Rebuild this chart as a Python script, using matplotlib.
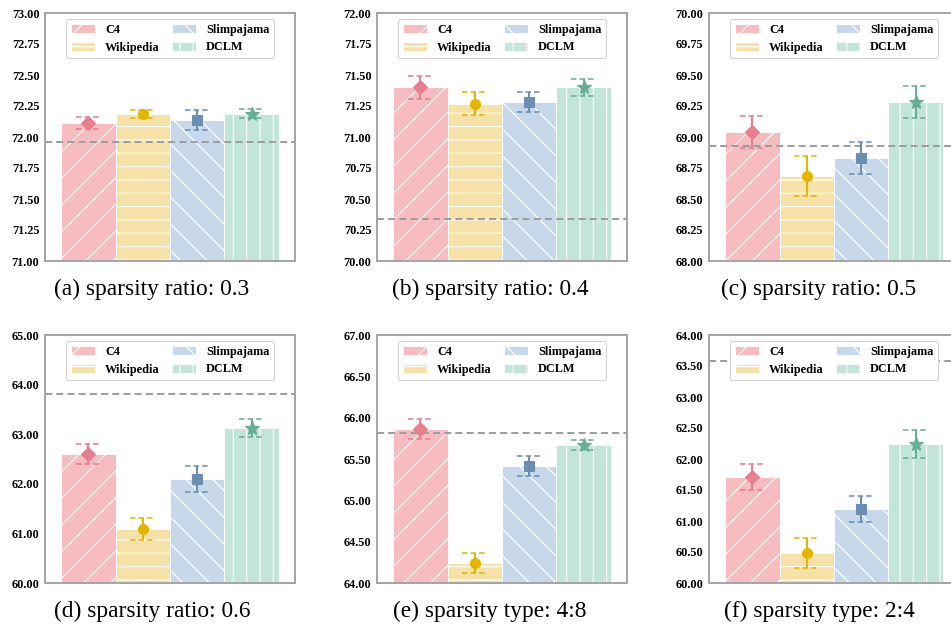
import matplotlib
matplotlib.use("Agg")
import matplotlib.pyplot as plt
import numpy as np

plt.rcParams['font.family'] = ['Liberation Serif', 'DejaVu Serif']
plt.rcParams['hatch.linewidth'] = 1.0

datasets = ["C4", "Wikipedia", "Slimpajama", "DCLM"]

# (a) sparsity ratio 0.3
mean_a = [72.115, 72.185, 72.137, 72.188]
err_a = [0.05, 0.035, 0.08, 0.035]
base_a = 71.957
# (b) sparsity ratio 0.4
mean_b = [71.40, 71.27, 71.28, 71.40]
err_b = [0.09, 0.09, 0.08, 0.07]
base_b = 70.34
# (c) sparsity ratio 0.5
mean_c = [69.04, 68.685, 68.83, 69.28]
err_c = [0.13, 0.16, 0.13, 0.13]
base_c = 68.93
# (d) sparsity ratio 0.6
mean_d = [62.60, 61.09, 62.10, 63.12]
err_d = [0.20, 0.23, 0.26, 0.18]
base_d = 63.82
# (e) sparsity type 4:8
mean_e = [65.86, 64.24, 65.42, 65.67]
err_e = [0.12, 0.12, 0.12, 0.06]
base_e = 65.81
# (f) sparsity type 2:4
mean_f = [61.71, 60.48, 61.20, 62.24]
err_f = [0.21, 0.24, 0.21, 0.22]
base_f = 63.58

captions = ["(a) sparsity ratio: 0.3", "(b) sparsity ratio: 0.4", "(c) sparsity ratio: 0.5",
            "(d) sparsity ratio: 0.6", "(e) sparsity type: 4:8", "(f) sparsity type: 2:4"]
ylims = [(71, 73), (70, 72), (68, 70), (60, 65), (64, 67), (60, 64)]
ysteps = [0.25, 0.25, 0.25, 1.0, 0.5, 0.5]

panels = [(mean_a, err_a, base_a), (mean_b, err_b, base_b), (mean_c, err_c, base_c),
          (mean_d, err_d, base_d), (mean_e, err_e, base_e), (mean_f, err_f, base_f)]

bar_colors = ['#F6BCC0', '#F6E2A8', '#C8D8EB', '#C3E5D9']
mark_colors = ['#E67F90', '#E4B500', '#6A8EB4', '#68AE96']
hatches = ['/', '-', '\\', '|']
markers = ['D', 'o', 's', '*']
msizes = [8.5, 9, 8.5, 12.5]

W, H = 951, 626
fig = plt.figure(figsize=(W / 80, H / 80), dpi=80)

lefts = [45, 377, 709]
tops = [13, 335]
aw, ah = 250, 248
cap_x = [152, 490, 819]

x = np.arange(len(datasets))
for k, (means, errs, base) in enumerate(panels):
    r, c = divmod(k, 3)
    ax = fig.add_axes([lefts[c] / W, 1 - (tops[r] + ah) / H, aw / W, ah / H])
    for i in range(len(datasets)):
        ax.bar(x[i], means[i], 1.0, color=bar_colors[i], edgecolor='white', linewidth=0.8,
               hatch=hatches[i], label=datasets[i], zorder=1)
    ax.axhline(base, color='#9E9E9E', lw=1.8, linestyle=(0, (3.5, 2.1)), zorder=2)
    for i in range(len(datasets)):
        ax.errorbar(x[i], means[i], yerr=errs[i], fmt=markers[i], color=mark_colors[i],
                    ms=msizes[i], elinewidth=1.8, capsize=0, zorder=4)
        ax.hlines([means[i] - errs[i], means[i] + errs[i]], x[i] - 0.23, x[i] + 0.23,
                  colors=mark_colors[i], lw=1.4, linestyles=[(0, (3.5, 2))], zorder=4)
    lo, hi = ylims[k]
    ax.set_ylim(lo, hi)
    ax.set_xlim(-0.8, 3.8)
    ticks = np.arange(lo, hi + ysteps[k] / 2, ysteps[k])
    ax.set_yticks(ticks, labels=[f"{t:.2f}" for t in ticks], fontweight='bold', fontsize=11)
    ax.set_xticks([])
    ax.tick_params(axis='y', length=0, pad=5)
    for sp in ax.spines.values():
        sp.set_color('#A6A6A6')
        sp.set_linewidth(1.8)
    leg = ax.legend(loc='upper center', ncol=2, prop={'weight': 'bold', 'size': 11},
                    columnspacing=1.0, handletextpad=0.8, labelspacing=0.45,
                    handleheight=0.8, borderpad=0.4, framealpha=1, fancybox=True)
    leg.get_frame().set_edgecolor('#D5D5D5')
    fig.text(cap_x[c] / W, 1 - (tops[r] + ah + 28) / H, captions[k], fontsize=21,
             ha='center', va='center')

fig.savefig("out.png", dpi=80)
